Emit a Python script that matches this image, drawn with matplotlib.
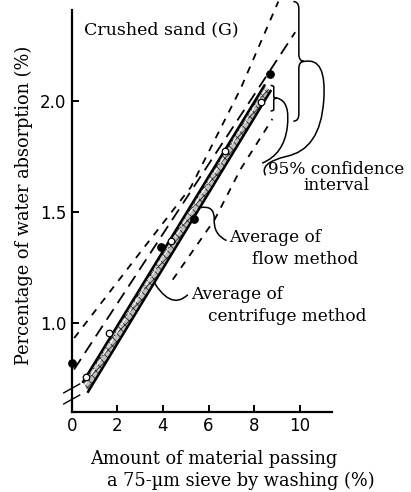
import numpy as np
import matplotlib
matplotlib.use("Agg")
import matplotlib.pyplot as plt
from matplotlib.path import Path
from matplotlib.patches import PathPatch, Polygon

# data
flow_x = [0.0, 3.91, 5.35, 8.71]            # flow method (filled dots)
flow_y = [0.82, 1.344, 1.47, 2.12]
cent_x = [0.63, 1.64, 4.34, 6.70, 8.28]     # centrifuge method (open circles)
cent_y = [0.756, 0.955, 1.367, 1.774, 1.995]
flow_fit_x = [0.1, 9.8]                     # long-dashed line
flow_fit_y = [0.79, 2.31]
band_top_x = [0.50, 8.45]                   # shaded band of averages
band_top_y = [0.735, 2.07]
band_bot_x = [0.72, 8.72]
band_bot_y = [0.69, 2.045]
ci_up_x = [0.11, 2.69, 5.22, 7.40, 9.06]    # 95% confidence limits
ci_up_y = [0.932, 1.276, 1.611, 2.054, 2.448]
ci_lo_x = [4.43, 6.27, 7.40, 8.80]
ci_lo_y = [1.195, 1.466, 1.692, 1.919]

SERIF = "DejaVu Serif"
FS = 12.2
plt.rcParams["font.family"] = SERIF
plt.rcParams["hatch.linewidth"] = 0.6

fig = plt.figure(figsize=(4.11, 4.92), dpi=100)
ax = fig.add_axes([0.1745, 0.1632, 0.8070 - 0.1745, 0.9797 - 0.1632])
ax.set_xlim(0, 11.4)
ax.set_ylim(0.6, 2.41)
for s in ("top", "right"):
    ax.spines[s].set_visible(False)
for s in ("left", "bottom"):
    ax.spines[s].set_linewidth(1.6)
ax.set_xticks([0, 2, 4, 6, 8, 10])
ax.set_yticks([1.0, 1.5, 2.0])
ax.set_yticklabels(["1.0", "1.5", "2.0"])
ax.tick_params(direction="in", length=5, width=1.4, labelsize=12, pad=4)
for lab in ax.get_xticklabels() + ax.get_yticklabels():
    lab.set_family("DejaVu Sans")

# band between the two averages
poly = np.array([[band_top_x[0], band_top_y[0]], [band_top_x[1], band_top_y[1]],
                 [band_bot_x[1], band_bot_y[1]], [band_bot_x[0], band_bot_y[0]]])
ax.add_patch(Polygon(poly, closed=True, facecolor="0.75", edgecolor="0.15",
                     hatch="xxxx", lw=0, zorder=2))
ax.plot(band_top_x, band_top_y, color="black", lw=1.8, zorder=3)
ax.plot(band_bot_x, band_bot_y, color="black", lw=1.8, zorder=3)
ax.plot([(2 * a + b) / 3 for a, b in zip(band_top_x, band_bot_x)],
        [(2 * a + b) / 3 for a, b in zip(band_top_y, band_bot_y)],
        color="white", lw=0.8, ls="-.", zorder=3)

ax.plot(flow_fit_x, flow_fit_y, color="black", lw=1.3, dashes=(7, 4), zorder=3)
ax.plot(ci_up_x, ci_up_y, color="black", lw=1.3, dashes=(4, 4), clip_on=False)
ax.plot(ci_lo_x, ci_lo_y, color="black", lw=1.3, dashes=(4, 4))

ax.scatter(flow_x, flow_y, s=28, color="black", zorder=5, clip_on=False)
ax.scatter(cent_x, cent_y, s=22, facecolor="white", edgecolor="black",
           lw=0.9, zorder=5)


def brace(x, y0, y1, w):
    ym = (y0 + y1) / 2
    d = 0.06 * (y1 - y0)
    verts = [(x, y1), (x + w / 2, y1), (x + w / 2, y1 - d),
             (x + w / 2, ym + d), (x + w / 2, ym), (x + w, ym),
             (x + w / 2, ym), (x + w / 2, ym - d),
             (x + w / 2, y0 + d), (x + w / 2, y0), (x, y0)]
    codes = [Path.MOVETO, Path.CURVE3, Path.CURVE3, Path.LINETO,
             Path.CURVE3, Path.CURVE3, Path.CURVE3, Path.CURVE3,
             Path.LINETO, Path.CURVE3, Path.CURVE3]
    ax.add_patch(PathPatch(Path(verts, codes), fill=False, lw=1.1,
                           clip_on=False))


def curve(pts):
    codes = [Path.MOVETO] + [Path.CURVE3] * (len(pts) - 1)
    ax.add_patch(PathPatch(Path(pts, codes), fill=False, lw=1.1,
                           clip_on=False))


brace(9.72, 1.909, 2.448, 0.48)
brace(8.72, 1.955, 2.07, 0.28)
curve([(10.2, 2.178), (11.2, 2.2), (11.05, 2.0), (10.9, 1.78),
       (9.4, 1.75), (8.2, 1.72), (8.5, 1.665)])
curve([(9.0, 2.013), (9.6, 2.0), (9.45, 1.88), (9.3, 1.76),
       (8.35, 1.72)])
curve([(6.79, 1.371), (6.2, 1.40), (6.25, 1.47), (6.25, 1.53), (5.66, 1.52)])
curve([(5.09, 1.127), (4.3, 1.05), (3.47, 1.208)])

# axis break marks
for dy in (0.0, 0.05):
    ax.plot([-0.35, 0.35], [0.635 + dy, 0.675 + dy], color="black", lw=1.0,
            clip_on=False)

ax.text(0.55, 2.32, "Crushed sand (G)", fontsize=12.5, va="center")
ax.text(11.6, 1.655, "95% confidence\ninterval", fontsize=FS, va="center",
        ha="center", multialignment="center", linespacing=0.95)
ax.text(6.88, 1.385, "Average of", fontsize=FS, va="center")
ax.text(7.9, 1.285, "flow method", fontsize=FS, va="center")
ax.text(5.22, 1.127, "Average of", fontsize=FS, va="center")
ax.text(5.96, 1.03, "centrifuge method", fontsize=FS, va="center")

fig.text(0.058, 0.583, "Percentage of water absorption (%)", rotation=90,
         ha="center", va="center", fontsize=12.8)
fig.text(0.219, 0.067, "Amount of material passing", fontsize=12.8,
         ha="left", va="center")
fig.text(0.26, 0.022, "a 75-µm sieve by washing (%)", fontsize=12.8,
         ha="left", va="center")

fig.savefig("out.png", dpi=100)
